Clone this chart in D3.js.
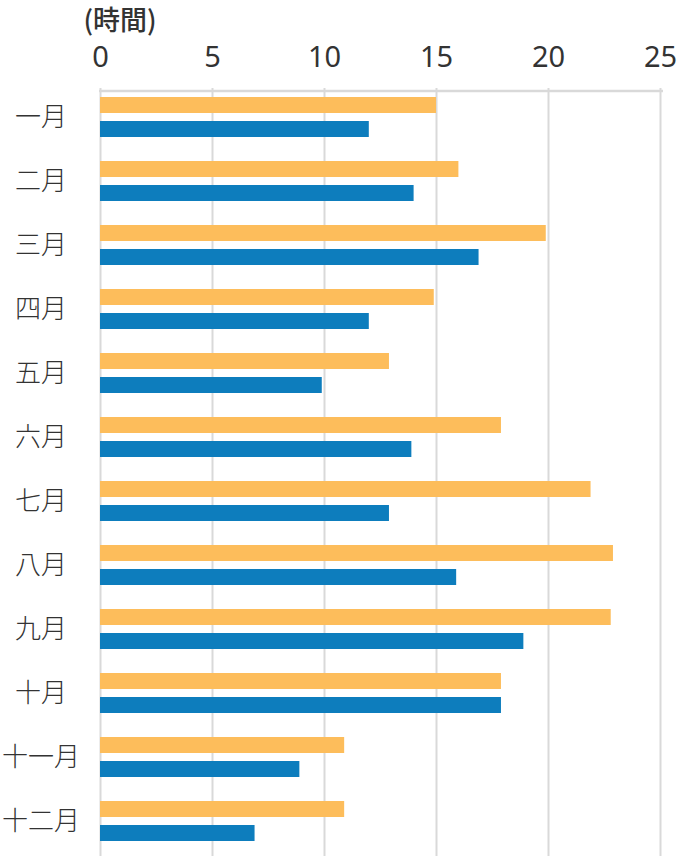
<!DOCTYPE html>
<html>
<head>
<meta charset="utf-8">
<script src="https://cdn.jsdelivr.net/npm/d3@7"></script>
<style>
  html, body { margin: 0; padding: 0; background: #fff; }
  svg { display: block; font-family: "Noto Sans CJK JP", "Noto Sans", sans-serif; }
</style>
</head>
<body>
<svg id="chart" width="686" height="856"></svg>
<script>
const months = ["一月","二月","三月","四月","五月","六月","七月","八月","九月","十月","十一月","十二月"];
const seriesNames = ["orange", "blue"];
const orangeValues = [15.0, 16.0, 19.9, 14.9, 12.9, 17.9, 21.9, 22.9, 22.8, 17.9, 10.9, 10.9];
const blueValues   = [12.0, 14.0, 16.9, 12.0, 9.9, 13.9, 12.9, 15.9, 18.9, 17.9, 8.9, 6.9];
const tickValues = [0, 5, 10, 15, 20, 25];
const unitLabel = "(時間)";
const colors = { orange: "#FDBD5B", blue: "#0D7DBD" };

const W = 686, H = 856;
const margin = { top: 91, left: 100, right: 26, bottom: 0 };
const svg = d3.select("#chart");

const x = d3.scaleLinear().domain([0, 25]).range([margin.left, W - margin.right]);
const y = d3.scaleBand().domain(months).range([85, 853]);
const ySub = d3.scaleBand().domain(seriesNames).range([12, 52]).paddingInner(1/3).paddingOuter(0);

// gridlines + top axis
const axis = d3.axisTop(x)
  .tickValues(tickValues)
  .tickSizeInner(-(H - margin.top))
  .tickSizeOuter(0)
  .tickPadding(24)
  .tickFormat(d3.format("d"));

const gAxis = svg.append("g")
  .attr("transform", `translate(0,${margin.top})`)
  .call(axis);
gAxis.select(".domain")
  .attr("d", `M${x(0) - 1},0H${x(25) + 3}`)
  .attr("stroke", "#d9d9d9").attr("stroke-width", 2.5);
gAxis.selectAll(".tick line")
  .attr("y1", -3)
  .attr("stroke", "#d9d9d9").attr("stroke-width", 2);
gAxis.selectAll(".tick text")
  .attr("fill", "#333").attr("font-size", 29)
  .attr("font-family", "'Noto Sans', sans-serif")
  .attr("dy", 0);

// unit label
svg.append("text")
  .attr("x", 120).attr("y", 30)
  .attr("text-anchor", "middle")
  .attr("font-size", 27).attr("font-weight", 500)
  .attr("fill", "#333")
  .text(unitLabel);

// bars
const rows = months.map((m, i) => ({ month: m, orange: orangeValues[i], blue: blueValues[i] }));
const gRows = svg.append("g").selectAll("g").data(rows).join("g")
  .attr("transform", d => `translate(0,${y(d.month)})`);
gRows.selectAll("rect")
  .data(d => seriesNames.map(s => ({ key: s, value: d[s] })))
  .join("rect")
  .attr("x", x(0))
  .attr("y", d => ySub(d.key))
  .attr("width", d => x(d.value) - x(0))
  .attr("height", ySub.bandwidth())
  .attr("fill", d => colors[d.key]);

// month labels
svg.append("g").selectAll("text").data(months).join("text")
  .attr("x", 41)
  .attr("y", d => y(d) + y.bandwidth() / 2)
  .attr("dy", "0.35em")
  .attr("text-anchor", "middle")
  .attr("font-size", 26)
  .attr("font-weight", 300)
  .attr("fill", "#333")
  .text(d => d);
</script>
</body>
</html>
